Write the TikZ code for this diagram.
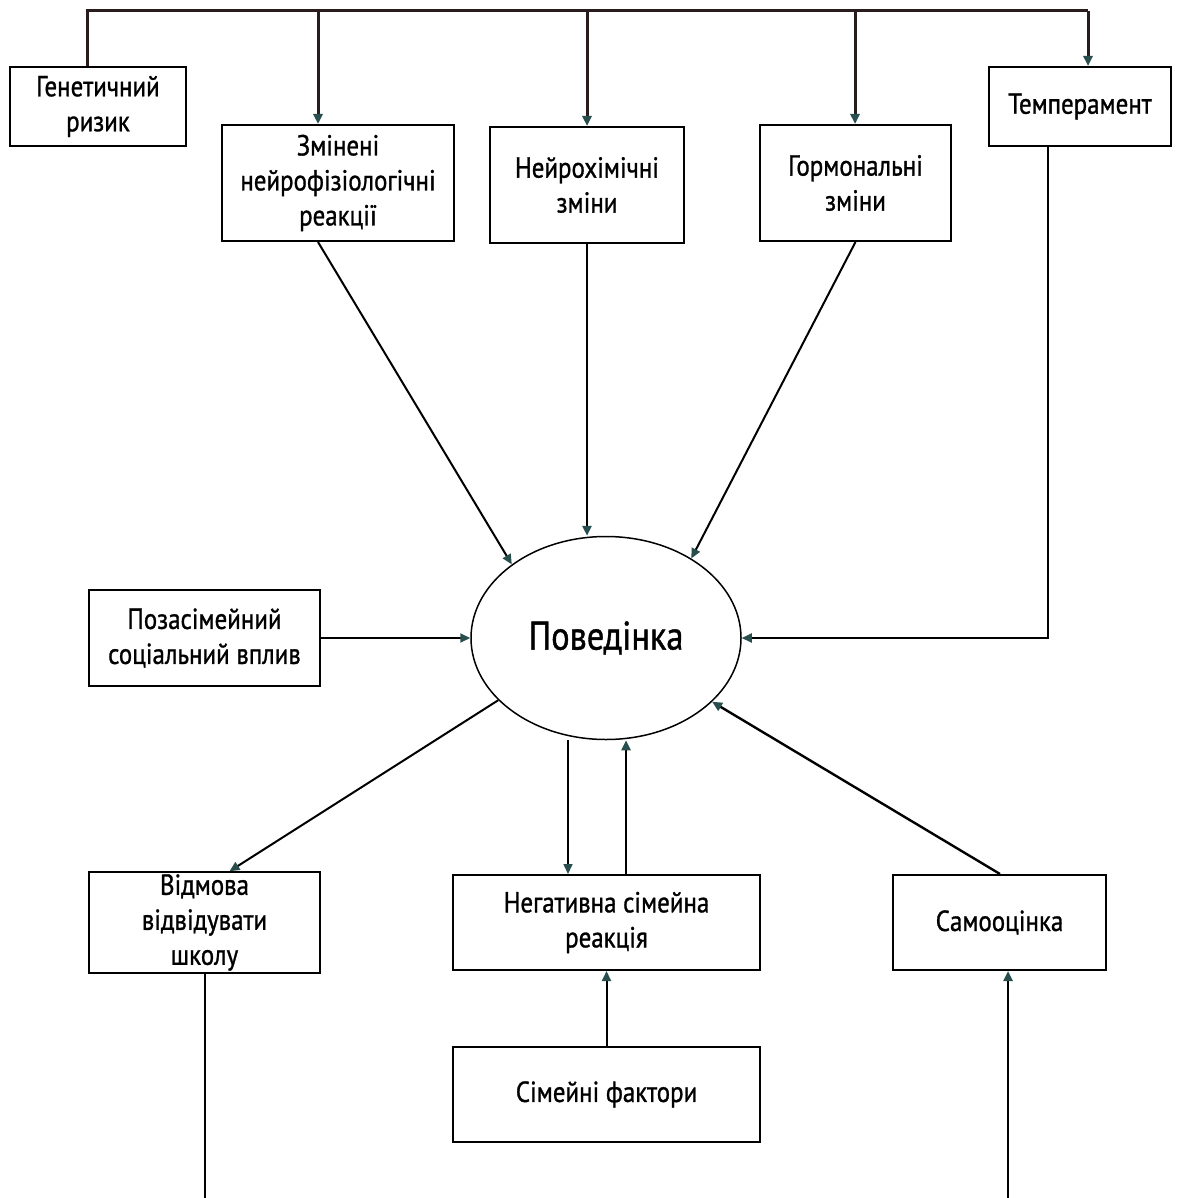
\documentclass[tikz,border=0pt]{standalone}
\usepackage{fontspec}
\setmainfont{PT Sans}[FakeStretch=0.86, FakeBold=1]
\usetikzlibrary{shapes, arrows.meta, positioning, calc}
\definecolor{tipteal}{RGB}{40, 78, 78}
\definecolor{busdark}{RGB}{40, 28, 28}
\tikzset{
  box/.style={draw, line width=2pt, align=center, inner sep=2pt, font=\fontsize{29}{35}\selectfont},
  link/.style={line width=2pt, -{Triangle[length=10pt, width=9pt, color=tipteal]}},
  bus/.style={line width=3pt, draw=busdark},
}
\begin{document}
\begin{tikzpicture}[x=1pt, y=-1pt]
  \useasboundingbox (0,0) rectangle (1183,1198);

  % Top row
  \node[box, minimum width=176pt, minimum height=79pt] (gen) at (98, 106.5) {Генетичний\\ризик};
  \node[box, minimum width=232pt, minimum height=116pt] (zmin) at (338, 183) {Змінені\\нейрофізіологічні\\реакції};
  \node[box, minimum width=194pt, minimum height=116pt] (neiro) at (587, 185) {Нейрохімічні\\зміни};
  \node[box, minimum width=191pt, minimum height=116pt] (gorm) at (855.5, 183) {Гормональні\\зміни};
  \node[box, minimum width=182pt, minimum height=79pt] (temp) at (1080, 106.5) {Темперамент};

  % Centre
  \node[draw, ellipse, line width=1.5pt, minimum width=270pt, minimum height=203pt, font=\fontsize{40}{44}\selectfont] (beh) at (606, 638) {Поведінка};
  \node[box, minimum width=231pt, minimum height=96pt] (poza) at (204.5, 638) {Позасімейний\\соціальний вплив};

  % Bottom row
  \node[box, minimum width=231pt, minimum height=95pt] (vidm) at (204.5, 922.5) {Відмова\\відвідувати\\школу};
  \node[box, minimum width=307pt, minimum height=95pt] (neg) at (606.5, 922.5) {Негативна сімейна\\реакція};
  \node[box, minimum width=213pt, minimum height=95pt] (samo) at (999.5, 922.5) {Самооцінка};
  \node[box, minimum width=307pt, minimum height=95pt] (sim) at (606.5, 1094.5) {Сімейні фактори};

  % Bus taps
  \coordinate (busL) at (87, 11);
  \coordinate (busR) at (1088, 11);
  \coordinate (tapZ) at (318, 11);
  \coordinate (tapN) at (587, 11);
  \coordinate (tapG) at (855, 11);
  \coordinate (tapT) at (1048, 146);
  \coordinate (downL) at (568, 0);
  \coordinate (upR) at (626, 0);
  \coordinate (vidmEnd) at (205, 1198);
  \coordinate (samoEnd) at (1008, 1198);

  % Top bus
  \draw[bus] (busL |- gen.north) -- (busL) -- (busR);
  \draw[bus, link, line width=3pt] (busR) -- (busR |- temp.north);
  \draw[bus, link, line width=3pt] (tapZ) -- (tapZ |- zmin.north);
  \draw[bus, link, line width=3pt] (tapN) -- (tapN |- neiro.north);
  \draw[bus, link, line width=3pt] (tapG) -- (tapG |- gorm.north);

  % Into behaviour
  \draw[link] (tapZ |- zmin.south) -- (beh.142);
  \draw[link, line width=2.8pt] (tapN |- neiro.south) -- (tapN |- beh.north);
  \draw[link] (gorm.south) -- (beh.43);
  \draw[link] (tapT) |- (beh.east);
  \draw[link] (poza.east) -- (beh.west);

  % Out of behaviour
  \draw[link] (beh.210) -- ($(vidm.north)+(25,0)$);
  \draw[link, line width=1.6pt] (downL |- beh.south) -- (downL |- neg.north);
  \draw[link, line width=2.4pt] (upR |- neg.north) -- (upR |- beh.south);
  \draw[link, line width=2.4pt] ($(samo.north)+(0.5,0)$) -- (beh.329);
  \draw[link] (sim.north) -- (neg.south);
  \draw[line width=1.6pt] (vidmEnd |- vidm.south) -- (vidmEnd);
  \draw[link, line width=2.4pt] (samoEnd) -- (samoEnd |- samo.south);
\end{tikzpicture}
\end{document}
